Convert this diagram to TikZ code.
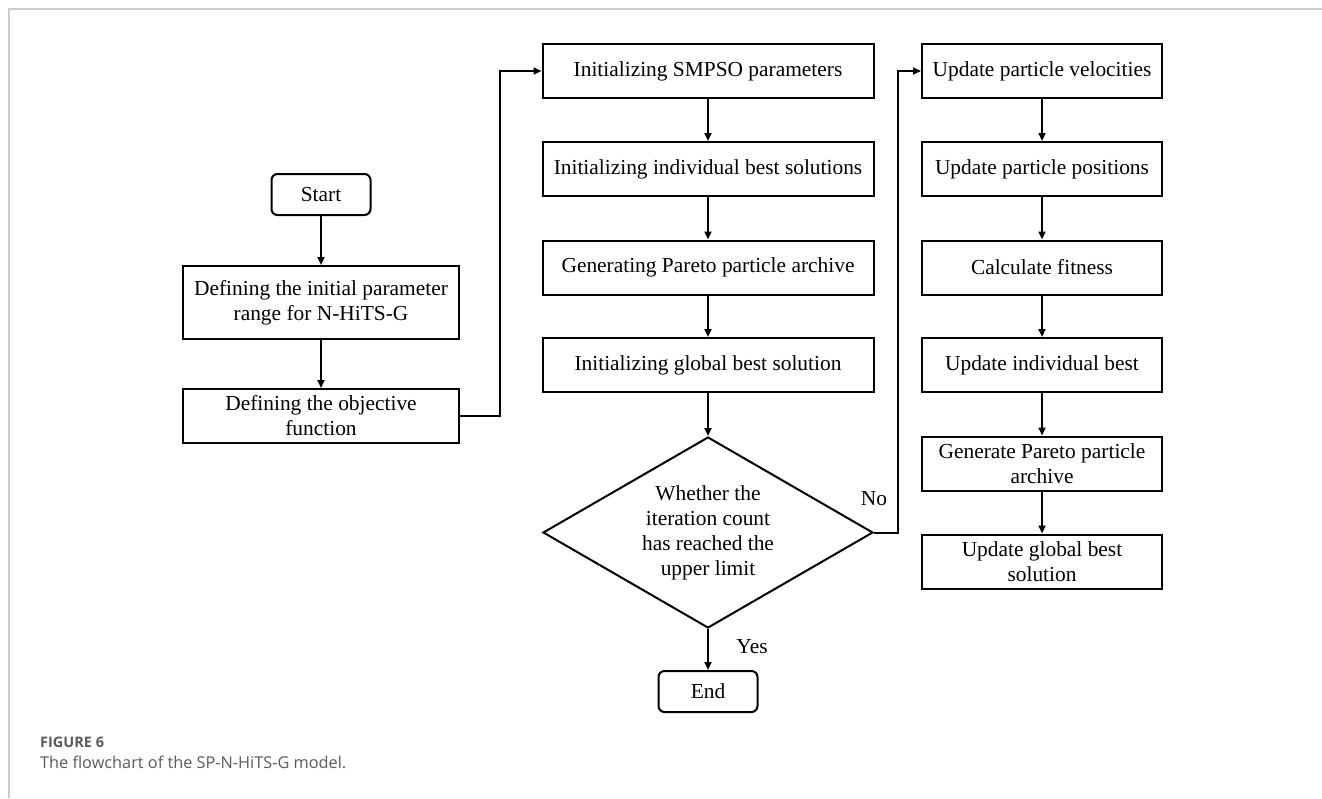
\documentclass[tikz,border=0pt]{standalone}
\usepackage{fontspec}
\setmainfont{Liberation Serif}
\newfontfamily\capfont{Open Sans}
\usetikzlibrary{shapes.geometric,arrows.meta}
\definecolor{framegray}{HTML}{CCCCCC}
\definecolor{capgray}{HTML}{5A5A5A}
\begin{document}
\begin{tikzpicture}[x=1pt,y=-1pt,
  every node/.style={font=\fontsize{21.4}{25}\selectfont, inner sep=0pt},
  procbox/.style={draw, line width=2pt, rectangle, align=center},
  termbox/.style={draw, line width=2pt, rectangle, rounded corners=6pt, minimum width=99pt, minimum height=41pt},
  decbox/.style={draw, line width=2pt, diamond, align=center, minimum width=330pt, minimum height=191pt, aspect=1.73},
  flow/.style={line width=2pt, -{Triangle[length=8pt,width=7pt]}}]
\useasboundingbox (0,0) rectangle (1322,798);
% page frame
\draw[framegray, line width=1.2pt] (9,798) -- (9,9) -- (1322,9);

% left column
\node[termbox] (start) at (321,194.5) {Start};
\node[procbox, minimum width=276pt, minimum height=73pt] (range) at (321,302.5) {Defining the initial parameter\\range for N-HiTS-G};
\node[procbox, minimum width=276pt, minimum height=54pt] (obj) at (321,416) {Defining the objective\\function};

% middle column
\node[procbox, minimum width=331pt, minimum height=54pt] (init) at (708,71) {Initializing SMPSO parameters};
\node[procbox, minimum width=331pt, minimum height=54pt] (pbest) at (708,169) {Initializing individual best solutions};
\node[procbox, minimum width=331pt, minimum height=54pt] (arch) at (708,267.5) {Generating Pareto particle archive};
\node[procbox, minimum width=331pt, minimum height=54pt] (gbest) at (708,365) {Initializing global best solution};
\node[decbox] (cond) at (708,532.5) {Whether the\\iteration count\\has reached the\\upper limit};
\node[termbox] (end) at (708,691.5) {End};

% right column
\node[procbox, minimum width=240pt, minimum height=54pt] (vel) at (1042,71) {Update particle velocities};
\node[procbox, minimum width=240pt, minimum height=54pt] (pos) at (1042,169) {Update particle positions};
\node[procbox, minimum width=240pt, minimum height=54pt] (fit) at (1042,267.5) {Calculate fitness};
\node[procbox, minimum width=240pt, minimum height=54pt] (upb) at (1042,365) {Update individual best};
\node[procbox, minimum width=240pt, minimum height=54pt] (garch) at (1042,463.5) {Generate Pareto particle\\archive};
\node[procbox, minimum width=240pt, minimum height=54pt] (ugb) at (1042,561.5) {Update global best\\solution};

% connectors
\draw[flow] (start) -- (range);
\draw[flow] (range) -- (obj);
\draw[flow] (obj.east) -- (500,416) -- (500,71) -- (init.west);
\draw[flow] (init) -- (pbest);
\draw[flow] (pbest) -- (arch);
\draw[flow] (arch) -- (gbest);
\draw[flow] (gbest.south) -- (cond.north);
\draw[flow] (cond.south) -- (end.north);
\draw[flow] (cond.east) -- (898,532.5) -- (898,71) -- (vel.west);
\draw[flow] (vel) -- (pos);
\draw[flow] (pos) -- (fit);
\draw[flow] (fit) -- (upb);
\draw[flow] (upb) -- (garch);
\draw[flow] (garch) -- (ugb);

\node (no) at (874,499) {No};
\node (yes) at (752,647) {Yes};

% caption
\node[anchor=west, font=\capfont\fontsize{14.5}{16}\selectfont\bfseries, text=capgray] (fig) at (40,742) {FIGURE 6};
\node[anchor=west, font=\capfont\fontsize{16.3}{20}\selectfont, text=capgray] (cap) at (40,762) {The flowchart of the SP-N-HiTS-G model.};
\end{tikzpicture}
\end{document}
